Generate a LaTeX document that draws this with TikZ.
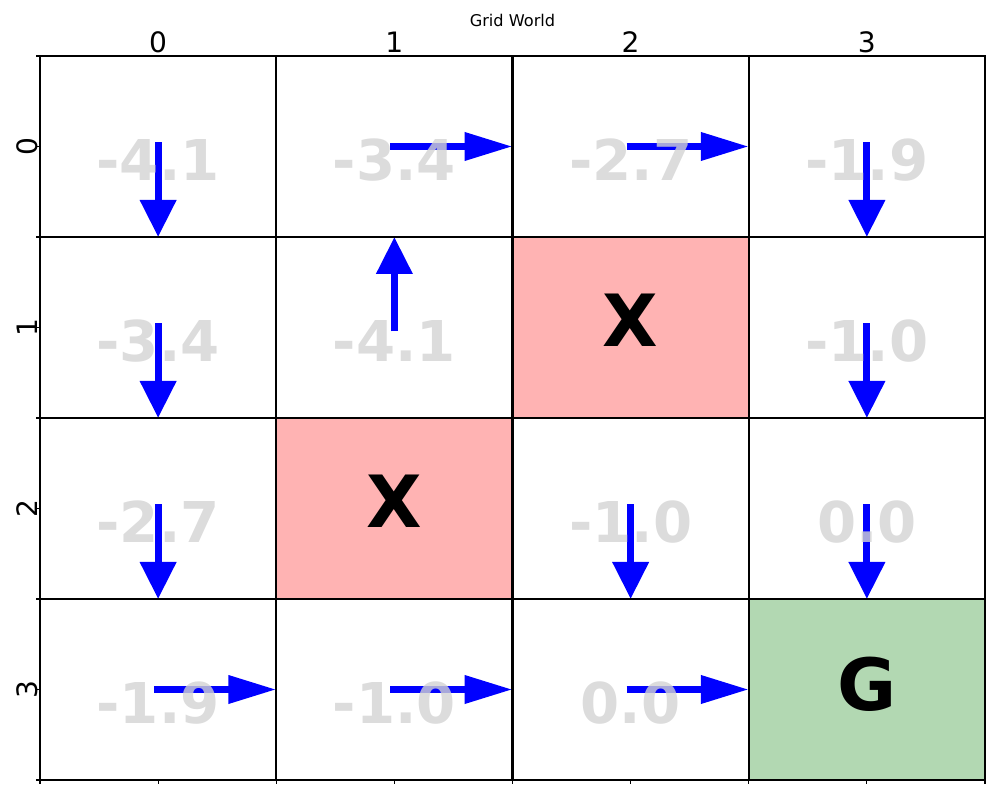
\documentclass[tikz,border=0pt]{standalone}
\usepackage{fontspec}
\setmainfont{DejaVu Sans}
\usetikzlibrary{arrows.meta}
\definecolor{blockpink}{RGB}{255,179,179}
\definecolor{goalgreen}{RGB}{178,216,178}
\definecolor{valgray}{RGB}{211,211,211}
\tikzset{
  cell/.style={minimum width=2.3625cm, minimum height=1.81cm, inner sep=0pt, outer sep=0pt},
  blocked/.style={cell, fill=blockpink},
  goal/.style={cell, fill=goalgreen},
  gridline/.style={line width=0.7pt, black},
  tickmark/.style={line width=0.3pt, black},
  harrow/.style={line width=2pt, draw=blue, -{Triangle[length=0.48cm, width=0.27cm]}},
  varrow/.style={line width=2pt, draw=blue, -{Triangle[length=0.37cm, width=0.35cm]}},
  valtext/.style={font=\bfseries\fontsize{16}{16}\selectfont, text=valgray, text opacity=0.8, anchor=base, inner sep=0pt},
  bigletter/.style={font=\bfseries\fontsize{20.5}{20.5}\selectfont, anchor=base, inner sep=0pt},
  ticklabel/.style={font=\fontsize{8}{8}\selectfont, inner sep=0pt}
}
\begin{document}
\begin{tikzpicture}
  \useasboundingbox (0,0) rectangle (10,8);
  % Zellen
  \foreach \r in {0,...,3} {
    \foreach \c in {0,...,3} {
      \node[cell] (c-\r-\c) at ({0.4+(\c+0.5)*2.3625},{7.44-(\r+0.5)*1.81}) {};
    }
  }
  \fill[blockpink] (c-1-2.north west) rectangle (c-1-2.south east);
  \fill[blockpink] (c-2-1.north west) rectangle (c-2-1.south east);
  \fill[goalgreen] (c-3-3.north west) rectangle (c-3-3.south east);
  % Politik (Pfeile)
  \foreach \r/\c/\a/\s/\dx/\dy in {0/0/south/varrow/0/0.04, 0/1/east/harrow/-0.04/0, 0/2/east/harrow/-0.04/0, 0/3/south/varrow/0/0.04,
                           1/0/south/varrow/0/0.04, 1/1/north/varrow/0/-0.04, 1/3/south/varrow/0/0.04,
                           2/0/south/varrow/0/0.04, 2/2/south/varrow/0/0.04, 2/3/south/varrow/0/0.04,
                           3/0/east/harrow/-0.04/0, 3/1/east/harrow/-0.04/0, 3/2/east/harrow/-0.04/0} {
    \draw[\s] ([xshift=\dx cm, yshift=\dy cm]c-\r-\c.center) -- (c-\r-\c.\a);
  }
  % Werte
  \foreach \r/\c/\v in {0/0/-4.1, 0/1/-3.4, 0/2/-2.7, 0/3/-1.9,
                        1/0/-3.4, 1/1/-4.1, 1/3/-1.0,
                        2/0/-2.7, 2/2/-1.0, 2/3/0.0,
                        3/0/-1.9, 3/1/-1.0, 3/2/0.0} {
    \node[valtext] (v-\r-\c) at ([yshift=-0.34cm]c-\r-\c.center) {\v};
  }
  \node[bigletter] (x-1-2) at ([yshift=-0.19cm]c-1-2.center) {X};
  \node[bigletter] (x-2-1) at ([yshift=-0.19cm]c-2-1.center) {X};
  \node[bigletter] (goal) at ([yshift=-0.205cm]c-3-3.center) {G};
  % Gitterlinien
  \foreach \r in {0,...,3} {
    \foreach \c in {0,...,3} {
      \draw[gridline] (c-\r-\c.north west) rectangle (c-\r-\c.south east);
    }
  }
  % Achsen
  \foreach \k in {0,...,8} {
    \draw[tickmark] ({0.4+\k*1.18125},0.2) -- ++(0,-0.04);
    \draw[tickmark] (0.4,{7.44-\k*0.905}) -- ++(-0.04,0);
  }
  \foreach \i in {0,...,3} {
    \node[ticklabel, anchor=base] (xl-\i) at ({0.4+(\i+0.5)*2.3625},7.47) {\i};
    \node[ticklabel, anchor=base, rotate=90] (yl-\i) at ({0.37},{7.44-(\i+0.5)*1.81}) {\i};
  }
  \node[font=\fontsize{4.6}{4.6}\selectfont, anchor=base, inner sep=0pt] (title) at (5.125,7.73) {Grid World};
\end{tikzpicture}
\end{document}
